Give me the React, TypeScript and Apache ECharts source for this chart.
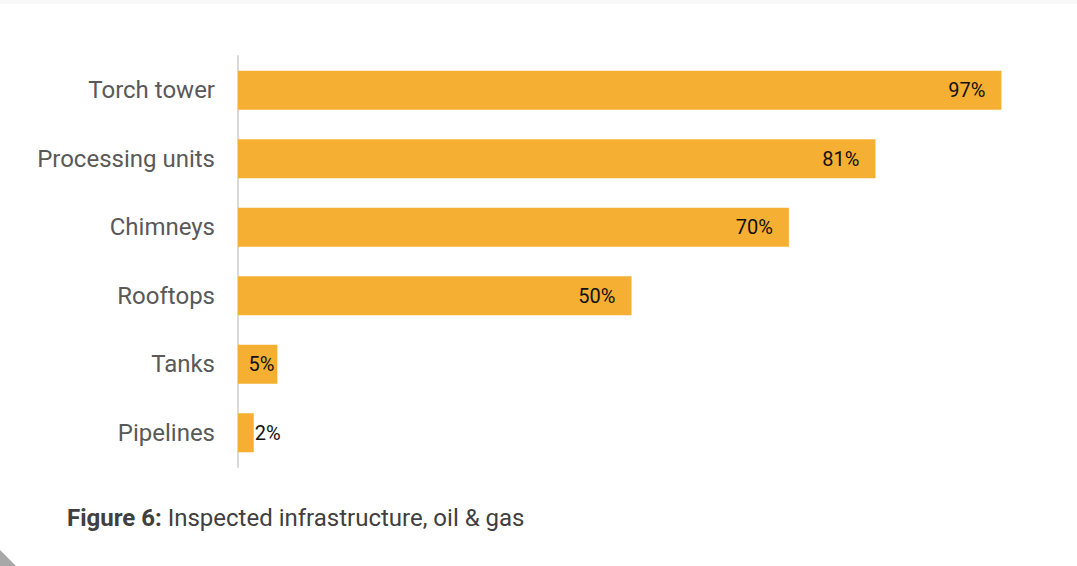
import React, { useEffect, useRef } from "react";
import * as echarts from "echarts";

const categories = ["Torch tower", "Processing units", "Chimneys", "Rooftops", "Tanks", "Pipelines"];
const values = [97, 81, 70, 50, 5, 2];
const captionBold = "Figure 6:";
const captionText = "Inspected infrastructure, oil & gas";

export default function App() {
  const ref = useRef<HTMLDivElement>(null);
  useEffect(() => {
    if (!ref.current) return;
    const chart = echarts.init(ref.current, null, { renderer: "svg" });
    const cats = [...categories].reverse();
    const vals = [...values].reverse();
    chart.setOption({
      animation: false,
      backgroundColor: "#ffffff",
      grid: { left: 238, right: 52, top: 56, bottom: 99, containLabel: false },
      xAxis: {
        type: "value",
        min: 0,
        max: 100,
        show: false,
      },
      yAxis: {
        type: "category",
        data: cats,
        axisLine: { show: true, lineStyle: { color: "#d9d9d9", width: 2 } },
        axisTick: { show: false },
        axisLabel: {
          color: "#595959",
          fontSize: 24,
          fontFamily: "Roboto",
          margin: 23,
        },
        splitLine: { show: false },
      },
      series: [
        {
          type: "bar",
          data: vals.map((v) => ({
            value: v,
            label: v < 4
              ? { position: "right", distance: 1 }
              : { position: "insideRight", distance: v < 10 ? 3 : 16 },
          })),
          barWidth: 39,
          itemStyle: { color: "#F5AF32" },
          label: {
            show: true,
            formatter: "{c}%",
            color: "#111111",
            fontSize: 20,
            fontFamily: "Roboto",
          },
        },
      ],
      graphic: [
        { type: "rect", shape: { x: 0, y: 0, width: 1077, height: 4 }, style: { fill: "#f8f8f8" } },
        { type: "polygon", shape: { points: [[0, 550], [16, 566], [0, 566]] }, style: { fill: "#a8a8a8" } },
        {
          type: "text",
          left: 67,
          top: 506,
          style: {
            text: "{b|" + captionBold + "} " + captionText,
            fontSize: 24,
            fontFamily: "Roboto",
            fill: "#404040",
            rich: { b: { fontWeight: "bold", fontSize: 24, fontFamily: "Roboto", fill: "#404040" } },
          },
        },
      ],
    });
    return () => chart.dispose();
  }, []);
  return <div ref={ref} style={{ position: "fixed", left: 0, top: 0, width: 1077, height: 566 }} />;
}
